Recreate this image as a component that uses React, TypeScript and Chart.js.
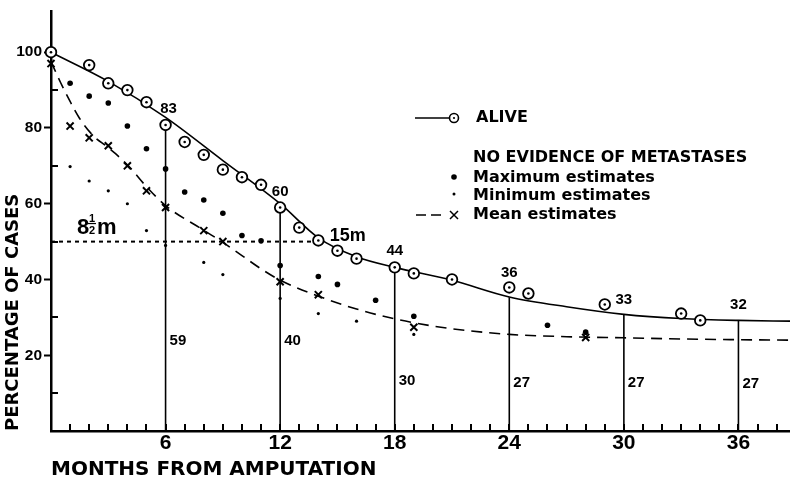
import React, { useEffect, useRef } from 'react';
import { Chart, registerables } from 'chart.js';

Chart.register(...registerables);

// ---- data ----
const aliveMonths = [0, 2, 3, 4, 5, 6, 7, 8, 9, 10, 11, 12, 13, 14, 15, 16, 18, 19, 21, 24, 25, 29, 33, 34];
const aliveValues = [100, 96.6, 91.8, 90, 86.8, 80.8, 76.3, 72.9, 69, 67, 65, 59, 53.7, 50.3, 47.6, 45.5, 43.2, 41.6, 40, 37.9, 36.3, 33.4, 31, 29.2];

const aliveCurveMonths = [0, 3, 6, 9, 12, 14, 16, 18, 21, 24, 27, 30, 33, 36, 38.7];
const aliveCurveValues = [100, 92.3, 82.8, 71.4, 60, 51, 46, 43.2, 39.8, 35.4, 32.8, 30.8, 29.7, 29.2, 29];

const maxMonths = [1, 2, 3, 4, 5, 6, 7, 8, 9, 10, 11, 12, 14, 15, 17, 19, 26, 28];
const maxValues = [91.8, 88.4, 86.6, 80.5, 74.5, 69.2, 63.1, 61, 57.5, 51.6, 50.2, 43.7, 40.8, 38.7, 34.5, 30.3, 27.9, 26.1];

const minMonths = [1, 2, 3, 4, 5, 6, 8, 9, 12, 14, 16, 19];
const minValues = [69.8, 66, 63.4, 60, 52.9, 49, 44.5, 41.3, 35, 31, 29, 25.5];

const meanMonths = [0, 1, 2, 3, 4, 5, 6, 8, 9, 12, 14, 19, 28];
const meanValues = [97, 80.5, 77.4, 75.3, 70, 63.4, 59, 52.9, 50, 39.4, 36, 27.4, 24.7];

const meanCurveMonths = [0, 0.5, 1, 1.5, 2.2, 3, 4, 5, 6, 8, 9, 10, 11, 12, 14, 16, 18, 20, 22, 24, 27, 30, 33, 36, 38.7];
const meanCurveValues = [97.5, 92, 87, 82.5, 78, 74.8, 70.3, 64.5, 59.5, 53, 49.8, 46.3, 42.8, 39.8, 35.6, 32.2, 29.6, 27.7, 26.4, 25.5, 24.9, 24.6, 24.3, 24.1, 24];

const markerMonths = [6, 12, 18, 24, 30, 36];
const markerAliveTops = [81, 59, 43.2, 35.3, 30.8, 29.2];
const aliveCounts = ['83', '60', '44', '36', '33', '32'];
const metaCounts = ['59', '40', '30', '27', '27', '27'];

const medianValue = 50;
const medianEndMonth = 13.8;

const xTickLabels = [6, 12, 18, 24, 30, 36];
const yTickLabels = [20, 40, 60, 80, 100];
const yMinorTicks = [10, 30, 50, 70, 90];

// label placement (in data units), kept apart from the data
const aliveCountY = [85, 63.2, 47.6, 41.8, 34.7, 33.4];
const aliveCountDx = [3, 0, 0, 0, 0, 0];
const metaCountY = [23.7, 23.7, 13.2, 12.6, 12.6, 12.4];

const NUM_FONT = '"Liberation Sans", Arial, sans-serif';

const pts = (xs: number[], ys: number[]) => xs.map((x, i) => ({ x, y: ys[i] }));

const annotationPlugin = {
  id: 'annotations',
  afterDraw(chart: any) {
    const { ctx, chartArea, scales } = chart;
    const xs = scales.x;
    const ys = scales.y;
    ctx.save();
    ctx.fillStyle = '#000';
    ctx.strokeStyle = '#000';

    // x minor ticks (inward)
    ctx.lineWidth = 2;
    for (let m = 1; m <= 38; m++) {
      const px = Math.round(xs.getPixelForValue(m));
      ctx.beginPath();
      ctx.moveTo(px, chartArea.bottom);
      ctx.lineTo(px, chartArea.bottom - 7);
      ctx.stroke();
    }
    // y minor ticks (inward)
    yMinorTicks.forEach((v) => {
      const py = Math.round(ys.getPixelForValue(v));
      ctx.beginPath();
      ctx.moveTo(chartArea.left, py);
      ctx.lineTo(chartArea.left + 7, py);
      ctx.stroke();
    });

    // counts on the vertical lines
    ctx.font = 'bold 15px ' + NUM_FONT;
    ctx.textBaseline = 'middle';
    ctx.textAlign = 'center';
    markerMonths.forEach((m, i) => {
      ctx.fillText(aliveCounts[i], xs.getPixelForValue(m) + aliveCountDx[i], ys.getPixelForValue(aliveCountY[i]));
    });
    ctx.textAlign = 'left';
    markerMonths.forEach((m, i) => {
      ctx.fillText(metaCounts[i], xs.getPixelForValue(m) + 4, ys.getPixelForValue(metaCountY[i]));
    });

    // median labels
    ctx.textBaseline = 'alphabetic';
    ctx.font = 'bold 18px "Liberation Sans", Arial, sans-serif';
    ctx.fillText('15m', xs.getPixelForValue(14.6), ys.getPixelForValue(51.6) + 5);

    const bx = xs.getPixelForValue(1.36);
    const by = ys.getPixelForValue(51.6) - 2;
    ctx.font = 'bold 22px "Liberation Sans", Arial, sans-serif';
    ctx.fillText('8', bx, by);
    ctx.font = 'bold 11px "Liberation Sans", Arial, sans-serif';
    ctx.textAlign = 'center';
    ctx.fillText('1', bx + 15, by - 12);
    ctx.fillText('2', bx + 15, by);
    ctx.lineWidth = 1.2;
    ctx.beginPath();
    ctx.moveTo(bx + 11, by - 10);
    ctx.lineTo(bx + 19, by - 10);
    ctx.stroke();
    ctx.textAlign = 'left';
    ctx.font = 'bold 22px "Liberation Sans", Arial, sans-serif';
    ctx.fillText('m', bx + 20, by);

    // legend
    ctx.font = 'bold 16px "DejaVu Sans", sans-serif';
    ctx.textBaseline = 'middle';
    ctx.lineWidth = 1.6;
    ctx.beginPath();
    ctx.moveTo(415, 118);
    ctx.lineTo(449, 118);
    ctx.stroke();
    ctx.fillStyle = '#fff';
    ctx.beginPath();
    ctx.arc(454, 118, 4.5, 0, Math.PI * 2);
    ctx.fill();
    ctx.stroke();
    ctx.fillStyle = '#000';
    ctx.beginPath();
    ctx.arc(454, 118, 1.1, 0, Math.PI * 2);
    ctx.fill();
    ctx.fillText('ALIVE', 476, 118);

    ctx.fillText('NO EVIDENCE OF METASTASES', 473, 158);
    ctx.beginPath();
    ctx.arc(454, 177, 2.8, 0, Math.PI * 2);
    ctx.fill();
    ctx.fillText('Maximum estimates', 473, 178);
    ctx.beginPath();
    ctx.arc(454, 194, 1.5, 0, Math.PI * 2);
    ctx.fill();
    ctx.fillText('Minimum estimates', 473, 196);
    ctx.lineWidth = 1.5;
    ctx.beginPath();
    ctx.moveTo(416, 215);
    ctx.lineTo(426, 215);
    ctx.moveTo(431, 215);
    ctx.lineTo(441, 215);
    ctx.moveTo(450, 211);
    ctx.lineTo(458, 219);
    ctx.moveTo(458, 211);
    ctx.lineTo(450, 219);
    ctx.stroke();
    ctx.fillText('Mean estimates', 473, 215);

    ctx.restore();
  },
};

export default function App() {
  const ref = useRef<HTMLCanvasElement | null>(null);

  useEffect(() => {
    document.body.style.margin = '0';
    const canvas = ref.current;
    if (!canvas) return;

    const verticalData: any[] = [];
    markerMonths.forEach((m, i) => {
      verticalData.push({ x: m, y: 0 }, { x: m, y: markerAliveTops[i] }, { x: m, y: null });
    });

    const chart = new Chart(canvas, {
      type: 'scatter',
      data: {
        datasets: [
          {
            label: 'alive centres',
            data: pts(aliveMonths, aliveValues),
            pointRadius: 1.3,
            pointBackgroundColor: '#000',
            pointBorderWidth: 0,
            showLine: false,
            clip: false,
          },
          {
            label: 'ALIVE',
            data: pts(aliveMonths, aliveValues),
            pointRadius: 5.3,
            pointBackgroundColor: '#fff',
            pointBorderColor: '#000',
            pointBorderWidth: 1.8,
            showLine: false,
            clip: false,
          },
          {
            label: 'Mean estimates',
            data: pts(meanMonths, meanValues),
            pointStyle: 'crossRot',
            pointRadius: 5,
            pointBorderColor: '#000',
            pointBorderWidth: 2,
            showLine: false,
            clip: false,
          },
          {
            label: 'Maximum estimates',
            data: pts(maxMonths, maxValues),
            pointRadius: 2.8,
            pointBackgroundColor: '#000',
            pointBorderWidth: 0,
            showLine: false,
            clip: false,
          },
          {
            label: 'Minimum estimates',
            data: pts(minMonths, minValues),
            pointRadius: 1.6,
            pointBackgroundColor: '#000',
            pointBorderWidth: 0,
            showLine: false,
            clip: false,
          },
          {
            label: 'alive curve',
            data: pts(aliveCurveMonths, aliveCurveValues),
            showLine: true,
            borderColor: '#000',
            borderWidth: 1.6,
            pointRadius: 0,
            cubicInterpolationMode: 'monotone',
            clip: false,
          },
          {
            label: 'mean curve',
            data: pts(meanCurveMonths, meanCurveValues),
            showLine: true,
            borderColor: '#000',
            borderWidth: 1.6,
            borderDash: [11, 7],
            pointRadius: 0,
            cubicInterpolationMode: 'monotone',
            clip: false,
          },
          {
            label: 'verticals',
            data: verticalData,
            showLine: true,
            spanGaps: false,
            borderColor: '#000',
            borderWidth: 1.6,
            pointRadius: 0,
          },
          {
            label: 'median',
            data: [
              { x: 0, y: medianValue },
              { x: medianEndMonth, y: medianValue },
            ],
            showLine: true,
            borderColor: '#000',
            borderWidth: 2,
            borderDash: [4, 4],
            pointRadius: 0,
          },
        ],
      },
      options: {
        animation: false,
        responsive: false,
        devicePixelRatio: 1,
        layout: { autoPadding: false, padding: { top: 10, right: 0, bottom: 0, left: 0 } },
        plugins: {
          legend: { display: false },
          tooltip: { enabled: false },
        },
        scales: {
          x: {
            type: 'linear',
            min: 0,
            max: 38.7,
            afterFit: (s: any) => {
              s.height = 53;
            },
            border: { display: true, color: '#000', width: 2.5 },
            grid: { display: false, drawTicks: false },
            ticks: {
              stepSize: 1,
              autoSkip: false,
              maxRotation: 0,
              padding: 0,
              color: '#000',
              font: { family: '"Liberation Sans", Arial, sans-serif', size: 21, weight: 'bold' },
              callback: (v: any) => (xTickLabels.includes(Number(v)) ? String(v) : ''),
            },
            title: {
              display: true,
              text: 'MONTHS FROM AMPUTATION',
              align: 'start',
              color: '#000',
              font: { family: '"DejaVu Sans", sans-serif', size: 20, weight: 'bold' },
              padding: { top: 0, bottom: 2 },
            },
          },
          y: {
            type: 'linear',
            min: 0,
            max: 110.8,
            afterFit: (s: any) => {
              s.width = 51;
            },
            border: { display: true, color: '#000', width: 2.5 },
            grid: {
              display: true,
              drawOnChartArea: false,
              drawTicks: true,
              tickLength: 7,
              tickWidth: 2,
              tickColor: (c: any) => (yTickLabels.includes(c.tick && c.tick.value) ? '#000' : 'rgba(0,0,0,0)'),
            },
            ticks: {
              stepSize: 10,
              padding: 2,
              color: '#000',
              font: { family: NUM_FONT, size: 15.5, weight: 'bold' },
              callback: (v: any) => (yTickLabels.includes(Number(v)) ? String(v) : ''),
            },
            title: {
              display: true,
              text: 'PERCENTAGE OF CASES',
              align: 'start',
              color: '#000',
              font: { family: '"DejaVu Sans", sans-serif', size: 18, weight: 'bold' },
              padding: { top: 3, bottom: 0 },
            },
          },
        },
      } as any,
      plugins: [annotationPlugin],
    });

    return () => {
      chart.destroy();
    };
  }, []);

  return (
    <div style={{ width: 790, height: 484, background: '#fff' }}>
      <canvas ref={ref} width={790} height={484} style={{ display: 'block' }} />
    </div>
  );
}
